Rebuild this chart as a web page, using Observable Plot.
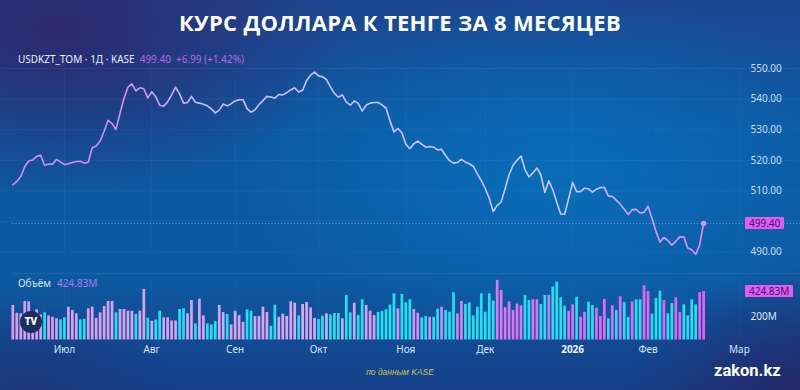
<!DOCTYPE html>
<html><head><meta charset="utf-8">
<script src="https://cdn.jsdelivr.net/npm/d3@7"></script>
<script src="https://cdn.jsdelivr.net/npm/@observablehq/plot@0.6"></script>
<style>
html,body{margin:0;padding:0;background:#14438a;}
#wrap{position:relative;width:800px;height:390px;overflow:hidden;font-family:"Noto Sans",sans-serif;
 background:
  radial-gradient(ellipse 430px 230px at 560px 170px, rgba(8,112,190,0.85), rgba(8,112,190,0) 75%),
  radial-gradient(ellipse 380px 230px at 60px 30px, rgba(46,38,108,0.95), rgba(46,38,108,0) 75%),
  radial-gradient(ellipse 260px 180px at 820px 400px, rgba(38,34,100,0.95), rgba(38,34,100,0) 75%),
  radial-gradient(ellipse 200px 120px at 30px 390px, rgba(30,50,120,0.7), rgba(30,50,120,0) 75%),
  linear-gradient(180deg, #1d4690 0%, #0d5aa3 35%, #0d5aa2 70%, #153f88 100%);}
.abs{position:absolute;white-space:nowrap;}
#title{left:0;width:800px;top:7px;text-align:center;color:#fff;font-family:"Open Sans",sans-serif;font-weight:700;font-size:22px;letter-spacing:0.3px;}
#legend{left:18px;top:52px;font-size:10px;color:#e8eefa;font-family:"Noto Sans",sans-serif;}
#legend .v{color:#b868e6;margin-left:5px;}
#vlegend{left:18px;top:276px;font-size:10px;color:#d2e2f2;font-family:"Noto Sans",sans-serif;}
#vlegend .v{color:#b07ae8;margin-left:6px;}
.box{background:#e35cf2;color:#3a1468;font-size:10px;padding:0 4px;height:12px;line-height:12px;border-radius:1px;}
#sep{left:12px;top:273px;width:788px;height:1px;background:rgba(150,190,235,0.12);}
#logo{left:19.5px;top:311px;width:22px;height:22px;border-radius:50%;background:#1c2d5f;color:#fff;font-family:"Roboto",sans-serif;font-weight:900;font-size:10px;line-height:22px;text-align:center;letter-spacing:-0.5px;}
#src{left:0;width:800px;top:367px;text-align:center;color:#c9c35a;font-style:italic;font-size:8.5px;font-family:"Liberation Sans",sans-serif;}
#brand{left:714px;top:361px;color:#fff;font-family:"Roboto",sans-serif;font-weight:700;font-size:16.5px;}
</style></head>
<body><div id="wrap">
<div id="title" class="abs">КУРС ДОЛЛАРА К ТЕНГЕ ЗА 8 МЕСЯЦЕВ</div>
</div>
<script>
// ---- data ----
const price = [512.0, 513.1, 514.7, 517.9, 519.8, 520.1, 521.3, 521.7, 518.4, 518.8,
 518.7, 520.3, 519.5, 518.6, 518.9, 519.3, 519.6, 519.7, 519.1, 519.4,
 524.1, 524.7, 526.3, 529.5, 533.1, 532.0, 530.1, 535.4, 540.2, 543.9,
 545.0, 542.7, 543.7, 543.4, 540.4, 542.4, 540.8, 538.0, 537.7, 539.1,
 541.4, 543.9, 541.7, 538.7, 538.9, 540.9, 539.0, 538.7, 538.3, 537.8,
 536.8, 535.5, 536.4, 538.4, 537.8, 538.5, 539.4, 539.8, 539.8, 536.9,
 535.7, 536.5, 538.2, 539.5, 540.9, 540.7, 540.3, 541.5, 541.4, 542.1,
 543.0, 543.7, 542.3, 542.9, 546.1, 547.8, 548.8, 547.6, 547.3, 546.4,
 544.0, 541.9, 540.6, 541.4, 539.0, 538.0, 539.4, 538.6, 536.1, 538.0,
 538.7, 538.9, 538.9, 538.1, 537.1, 532.9, 529.3, 530.4, 529.0, 525.3,
 523.8, 525.4, 526.3, 525.3, 524.3, 524.5, 524.3, 523.4, 523.6, 521.6,
 519.9, 519.1, 519.3, 520.3, 519.4, 518.9, 518.0, 515.6, 513.4, 510.8,
 507.6, 503.3, 505.3, 506.4, 510.7, 515.3, 518.4, 520.0, 521.4, 517.0,
 514.6, 515.9, 517.5, 515.3, 509.5, 513.3, 510.4, 506.3, 502.5, 502.4,
 507.5, 512.8, 509.8, 509.8, 510.9, 510.7, 509.6, 510.6, 511.1, 511.2,
 508.4, 508.2, 507.0, 505.7, 504.0, 502.3, 503.9, 504.0, 502.8, 503.0,
 505.0, 501.0, 496.8, 493.3, 494.8, 493.8, 492.3, 493.6, 495.0, 495.0,
 491.4, 490.8, 489.3, 492.41, 499.40];

const volume = [302,234,230,337,334,225,264,220,238,211,
 199,185,176,194,287,258,229,176,182,273,
 287,190,238,293,337,337,238,267,267,252,
 252,223,252,443,190,164,176,252,194,194,
 167,167,267,273,229,346,141,358,211,141,
 132,161,302,240,223,132,252,214,155,264,
 252,205,205,287,240,120,305,199,226,205,
 334,322,211,311,328,282,190,179,208,229,
 220,232,232,185,390,238,322,214,352,302,
 252,214,240,249,264,305,405,273,399,326,
 352,267,234,194,205,199,199,270,287,258,
 243,414,229,337,311,326,211,287,405,243,
 405,340,522,434,282,334,258,314,299,390,
 346,352,352,311,390,390,463,507,370,296,
 252,308,375,199,243,331,302,278,205,355,
 185,299,258,378,328,196,334,352,352,475,
 425,226,363,428,346,229,319,370,240,308,
 211,352,308,414,424.83];

// 1 = up day (pink bar), 0 = down day (cyan bar)
const volumeUp = [1,1,1,1,1,1,1,1,0,1,
 1,1,0,0,1,1,1,0,0,1,
 1,1,1,1,1,1,0,1,1,1,
 1,0,1,1,0,1,0,0,1,1,
 1,1,0,0,1,1,0,1,1,0,
 0,0,1,1,0,1,1,1,1,0,
 0,1,1,1,1,0,0,1,1,1,
 1,1,0,1,1,1,1,0,0,1,
 0,0,0,1,0,0,1,0,0,1,
 1,1,0,0,0,0,0,1,0,0,
 0,1,1,0,0,1,0,0,1,0,
 0,0,1,1,0,0,0,0,0,0,
 0,0,1,1,1,1,1,1,1,0,
 0,1,1,0,0,1,0,0,0,0,
 1,1,0,1,1,0,0,1,1,1,
 0,1,0,1,0,0,1,0,0,1,
 1,0,0,0,1,0,0,1,1,0,
 0,0,0,1,1];

// trading-day index of the first session of each month, and its label
const monthIdx = [13, 35, 56, 77, 99, 119, 141, 160, 183];
const monthLabels = ["Июл","Авг","Сен","Окт","Ноя","Дек","2026","Фев","Мар"];
const priceTicks = [490, 510, 520, 530, 540, 550];
const gridTicks = [490, 500, 510, 520, 530, 540, 550];
const volTicks = [200];
const ticker = "USDKZT_TOM · 1Д · KASE";
const change = 6.99, changePct = 1.42;

// ---- build ----
const rows = price.map((p, i) => ({i, price: p, vol: volume[i], up: volumeUp[i] === 1}));
const last = rows[rows.length - 1];
const xDomain = [-3.1, 198.4];
const font = {background: "transparent", fontFamily: "Noto Sans, sans-serif", fontSize: "10px", overflow: "visible"};
const wrap = document.getElementById("wrap");

function addGradient(svg, id, stops) {
  const defs = d3.select(svg).insert("defs", ":first-child");
  const g = defs.append("linearGradient").attr("id", id)
    .attr("gradientUnits", "userSpaceOnUse").attr("x1", 0).attr("x2", 800).attr("y1", 0).attr("y2", 0);
  stops.forEach(([o, c]) => g.append("stop").attr("offset", o).attr("stop-color", c));
}

const priceChart = Plot.plot({
  width: 800, height: 275, marginLeft: 0, marginRight: 0, marginTop: 68, marginBottom: 23.3,
  style: font,
  x: {domain: xDomain, axis: null},
  y: {domain: [490, 550], axis: null},
  marks: [
    Plot.gridY(gridTicks, {stroke: "#bcd6ff", strokeOpacity: 0.06}),
    Plot.gridX(monthIdx, {stroke: "#bcd6ff", strokeOpacity: 0.05}),
    Plot.ruleY([last], {y: "price", x1: 0, x2: xDomain[1], stroke: "#7ea9dc", strokeOpacity: 0.9, strokeDasharray: "1,2.2", strokeWidth: 1}),
    Plot.line(rows, {x: "i", y: "price", stroke: "url(#lineGrad)", strokeWidth: 1.6, strokeLinejoin: "round"}),
    Plot.dot([last], {x: "i", y: "price", r: 2.6, fill: "#ec90f4"}),
    Plot.axisY(priceTicks, {anchor: "right", label: null, tickSize: 0, tickPadding: 0, dx: -50, textAnchor: "start",
      tickFormat: d => d.toFixed(2), fill: "#c6ddf3", fontSize: 10})
  ]
});
addGradient(priceChart, "lineGrad", [[0, "#d48cf2"], [0.15, "#d190f2"], [0.25, "#c8bcf9"], [0.72, "#c6c8fc"], [0.8, "#d69ef4"], [0.88, "#e68af2"], [1, "#e88af2"]]);
priceChart.style.position = "absolute"; priceChart.style.left = "0px"; priceChart.style.top = "0px";
wrap.appendChild(priceChart);

const volTop = 270;
const volChart = Plot.plot({
  width: 800, height: 95, marginLeft: 0, marginRight: 0, marginTop: 12.4, marginBottom: 25.5,
  style: font,
  x: {domain: xDomain, axis: null},
  y: {domain: [0, 500], axis: null},
  marks: [
    Plot.gridX(monthIdx, {stroke: "#bcd6ff", strokeOpacity: 0.05}),
    Plot.ruleX(rows.filter(d => d.up), {x: "i", y1: 0, y2: "vol", stroke: "url(#barGrad)", strokeWidth: 2.7}),
    Plot.ruleX(rows.filter(d => !d.up), {x: "i", y1: 0, y2: "vol", stroke: "#22e0f0", strokeWidth: 2.7}),
    Plot.axisX(monthIdx.filter((d, k) => !/^\d+$/.test(monthLabels[k])), {label: null, tickSize: 0, tickPadding: 6,
      tickFormat: d => monthLabels[monthIdx.indexOf(d)], fill: "#d3e4f6", fontSize: 10}),
    Plot.axisX(monthIdx.filter((d, k) => /^\d+$/.test(monthLabels[k])), {label: null, tickSize: 0, tickPadding: 6,
      tickFormat: d => monthLabels[monthIdx.indexOf(d)], fill: "#eef5ff", fontSize: 10, fontWeight: "bold"}),
    Plot.axisY(volTicks, {anchor: "right", label: null, tickSize: 0, tickPadding: 0, dx: -50, textAnchor: "start",
      tickFormat: d => d + "M", fill: "#dde8f6", fontSize: 10})
  ]
});
addGradient(volChart, "barGrad", [[0, "#d59eec"], [0.42, "#d9a6f0"], [0.58, "#e07af0"], [1, "#e356f2"]]);
volChart.style.position = "absolute"; volChart.style.left = "0px"; volChart.style.top = volTop + "px";
wrap.appendChild(volChart);

// ---- overlays (text) ----
function add(id, cls, html, css) {
  const el = document.createElement("div");
  if (id) el.id = id;
  el.className = "abs " + (cls || "");
  el.innerHTML = html;
  Object.assign(el.style, css || {});
  wrap.appendChild(el);
  return el;
}
add("sep", "", "");
add("legend", "", `${ticker}<span class="v">${last.price.toFixed(2)}</span><span class="v" style="margin-left:5px">+${change.toFixed(2)} (+${changePct.toFixed(2)}%)</span>`);
add("vlegend", "", `Объём<span class="v">${last.vol.toFixed(2)}M</span>`);
const yp = priceChart.scale("y").apply(last.price);
add("", "box", last.price.toFixed(2), {left: "745px", top: (yp - 6) + "px"});
const yv = volChart.scale("y").apply(last.vol) + volTop;
add("", "box", last.vol.toFixed(2) + "M", {left: "745px", top: (yv - 6) + "px"});
add("logo", "", "TV");
add("src", "", "по данным KASE");
add("brand", "", "zakon.kz");
</script>
</body></html>
